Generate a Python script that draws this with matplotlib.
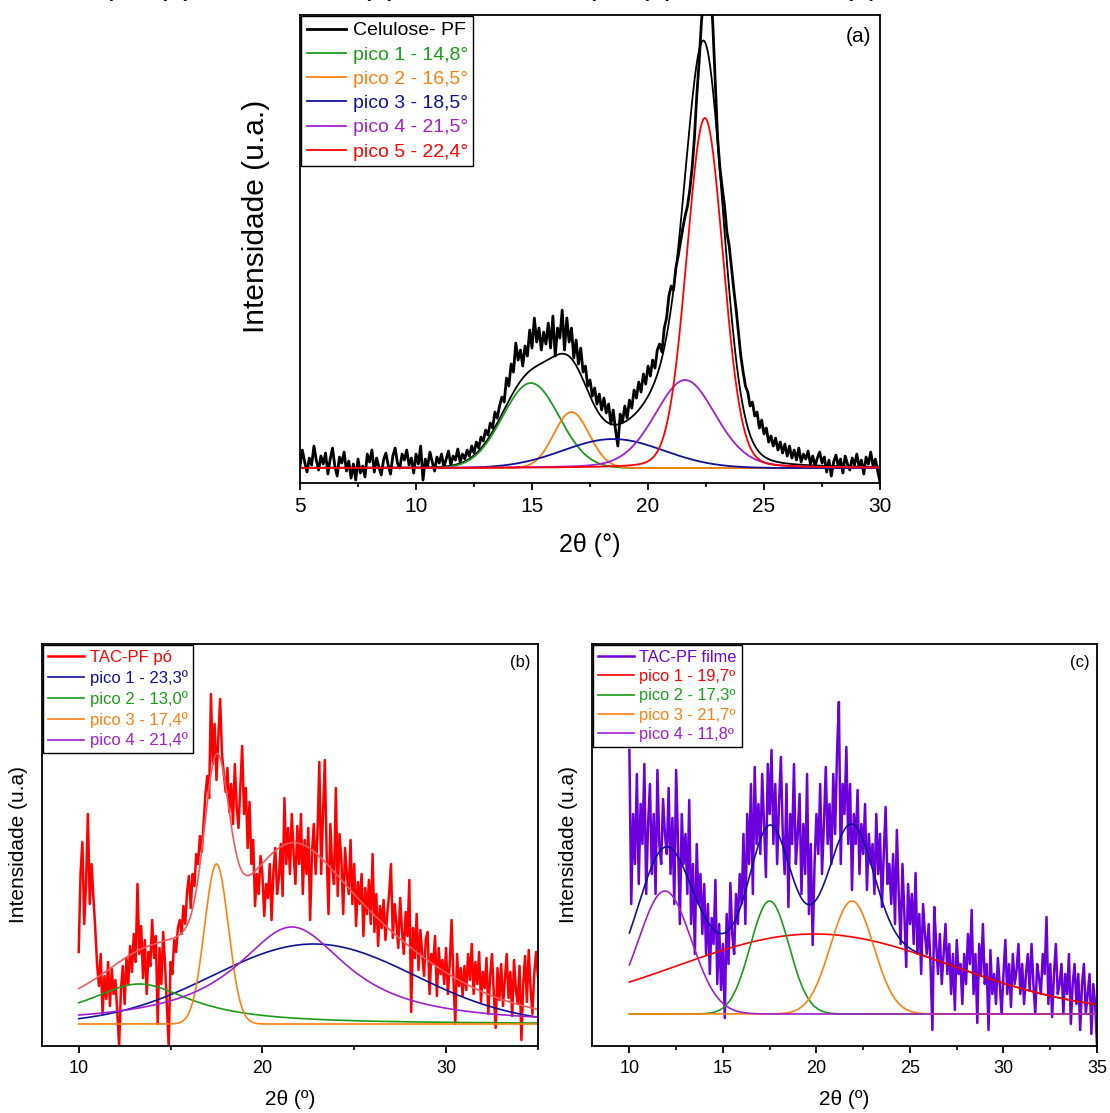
import matplotlib.pyplot as plt
import numpy as np
from matplotlib.ticker import MultipleLocator

plt.rcParams['font.family'] = ['Liberation Sans', 'DejaVu Sans']

# ---------------- (a) Celulose- PF, 5-30 deg, step 0.1 ----------------
a_range = (5.0, 30.0)
a_raw = [
    2, 18, 6, -4, 10, 3, 22, 8, -2, 12,
    4, 15, -6, 9, 20, 2, -8, 11, 5, 16,
    -3, 7, -10, 4, -12, 9, -5, 2, -9, 14,
    6, 18, -4, 10, 1, -7, 8, 15, 3, -6,
    12, 20, 5, 0, 14, 8, 18, 3, 10, -5,
    14, 4, 22, -12, 9, 2, 16, 6, -3, 11,
    5, 14, 1, 9, 17, 3, 12, 8, 19, 6,
    14, 9, 18, 12, 22, 15, 26, 20, 31, 27,
    38, 33, 45, 40, 56, 50, 62, 71, 66, 90,
    82, 104, 96, 125, 108, 118, 102, 122, 112, 138,
    120, 150, 126, 140, 118, 136, 124, 145, 120, 152,
    112, 140, 130, 158, 118, 150, 126, 140, 110, 128,
    104, 120, 96, 102, 82, 88, 72, 80, 64, 74,
    58, 70, 55, 64, 44, 58, 38, 22, 54, 46,
    62, 50, 68, 60, 78, 70, 86, 76, 94, 84,
    102, 92, 108, 100, 118, 124, 116, 140, 150, 172,
    182, 178, 200, 212, 226, 240, 252, 262, 278, 300,
    330, 372, 405, 445, 475, 490, 470, 485, 440, 385,
    330, 300, 280, 262, 236, 222, 200, 178, 158, 135,
    112, 96, 82, 76, 62, 66, 52, 56, 40, 48,
    34, 40, 26, 32, 22, 30, 18, 26, 15, 24,
    12, 22, 10, 18, 8, 20, 6, 14, 9, 17,
    4, 12, 2, 10, 16, 5, 11, -4, 8, -8,
    6, 13, 2, 9, -5, 12, 4, -2, 10, 3,
    14, 1, 8, -6, 11, 4, 16, 2, 9, -3,
    -14,
]
a_data_label = 'Celulose- PF'
a_labels = ['pico 1 - 14,8°', 'pico 2 - 16,5°', 'pico 3 - 18,5°',
            'pico 4 - 21,5°', 'pico 5 - 22,4°']
a_center = [14.95, 16.7, 18.5, 21.6, 22.45]
a_height = [85, 56, 29, 88, 350]
a_fwhm = [2.87, 1.8, 5.1, 3.1, 1.85]
a_eta = [0.0, 0.0, 0.0, 0.2, 0.1]
a_colors = ['#1a9c1a', '#ff8010', '#10109a', '#a020d0', '#ff0000']

# ---------------- (b) TAC-PF pó, 10-35 deg, step 0.1 ----------------
b_range = (10.0, 35.0)
b_raw = [
    72, 150, 182, 100, 140, 210, 120, 160, 127, 96,
    60, 38, 70, 10, 48, 25, 62, 18, 55, 30,
    44, 12, -22, 35, 58, 20, 66, 40, 78, 52,
    90, 62, 140, 70, 98, 46, 84, 30, 72, 58,
    104, 66, 88, 0, 76, 40, 92, 60, 20, -22,
    62, 50, 84, 72, 96, 104, 90, 118, 100, 132,
    148, 116, 150, 138, 170, 160, 188, 172, 200, 230,
    248, 226, 330, 260, 300, 244, 286, 325, 270, 250,
    232, 256, 212, 240, 200, 260, 218, 196, 238, 278,
    210, 236, 176, 222, 160, 184, 118, 150, 130, 168,
    150, 108, 140, 126, 160, 104, 152, 176, 130, 146,
    180, 128, 226, 160, 196, 150, 210, 170, 140, 198,
    160, 210, 130, 184, 150, 196, 104, 172, 200, 150,
    190, 262, 150, 210, 264, 170, 110, 200, 158, 140,
    236, 128, 190, 164, 110, 176, 150, 130, 184, 120,
    160, 98, 142, 120, 150, 88, 136, 110, 144, 100,
    170, 92, 130, 78, 118, 96, 124, 84, 110, 130,
    160, 86, 120, 100, 76, 126, 94, 70, 112, 88,
    144, 12, 96, 66, 110, 54, 94, 70, 48, 86,
    92, 30, 70, 60, 88, 28, 76, 50, 64, 40,
    76, 30, 60, 104, 46, 0, 70, 38, 56, 28,
    58, 34, 70, 44, 80, 30, 62, 40, 72, 22,
    52, 36, 66, 10, 48, 70, 30, -4, 56, 24,
    60, 18, 44, 70, 26, 52, 8, 64, 34, 20,
    58, -16, 40, 68, 22, 74, 36, 10, 50, 72,
    48,
]
b_data_label = 'TAC-PF pó'
b_labels = ['pico 1 - 23,3º', 'pico 2 - 13,0º', 'pico 3 - 17,4º', 'pico 4 - 21,4º']
b_center = [22.8, 13.3, 17.5, 21.6]
b_height = [80, 40, 160, 97]
b_fwhm = [12.95, 7.0, 1.53, 7.4]
b_eta = [0.0, 1.0, 0.0, 1.0]
b_colors = ['#10109a', '#1a9c1a', '#ff8010', '#a020d0']

# ---------------- (c) TAC-PF filme, 10-35 deg, step 0.1 ----------------
c_range = (10.0, 35.0)
c_raw = [
    264, 110, 200, 150, 240, 130, 210, 170, 250, 120,
    190, 230, 140, 200, 120, 244, 170, 150, 215, 180,
    160, 226, 140, 196, 110, 244, 170, 90, 200, 150,
    180, 120, 214, 90, 150, 60, 170, 110, 140, 80,
    130, 60, 110, 40, 96, 70, 134, 30, 90, 24,
    70, -4, 100, 50, 131, 80, 60, 120, 90, 140,
    110, 180, 90, 200, 150, 230, 120, 247, 170, 210,
    160, 240, 190, 137, 250, 200, 264, 170, 230, 150,
    210, 257, 180, 140, 230, 107, 200, 170, 250, 150,
    180, 220, 120, 190, 140, 240, 100, 170, 69, 150,
    200, 160, 230, 140, 190, 247, 170, 210, 150, 240,
    180, 260, 312, 150, 230, 200, 267, 170, 230, 124,
    200, 170, 224, 140, 190, 160, 210, 124, 180, 150,
    170, 120, 200, 140, 180, 107, 160, 207, 130, 150,
    110, 160, 90, 184, 120, 70, 150, 100, 47, 130,
    90, 120, 70, 141, 60, 100, 40, 110, 80, 60,
    90, 50, -16, 107, 70, 40, 80, 30, 60, 90,
    40, 70, 20, 60, 4, 74, 40, 50, 10, 60,
    30, 80, 50, 104, 20, 60, -9, 70, 40, 90,
    30, 50, -16, 64, 20, 40, 10, 56, 30, 0,
    40, 74, 20, 50, 7, 60, 30, 44, 70, 20,
    50, 10, 40, 60, 24, 70, 30, 0, 50, 36,
    20, 60, 40, 97, 10, 50, -3, 40, 70, 20,
    30, 50, 0, 40, 20, 60, -10, 30, 50, 10,
    40, -16, 30, 50, 0, 20, 40, -20, 30, 10,
    -32,
]
c_data_label = 'TAC-PF filme'
c_labels = ['pico 1 - 19,7º', 'pico 2 - 17,3º', 'pico 3 - 21,7º', 'pico 4 - 11,8º']
c_center = [19.9, 17.5, 21.9, 11.9]
c_height = [80, 113, 113, 123]
c_fwhm = [17.2, 2.43, 2.7, 3.3]
c_eta = [0.0, 0.0, 0.0, 0.0]
c_colors = ['#ff0000', '#1a9c1a', '#ff8010', '#a020c8']


def peak(x, c, h, fwhm, eta):
    # pseudo-Voigt: eta=0 gaussian, eta=1 lorentzian
    g = np.exp(-0.5 * ((x - c) / (fwhm / 2.3548)) ** 2)
    l = 1.0 / (1.0 + ((x - c) / (fwhm / 2.0)) ** 2)
    return h * (eta * l + (1 - eta) * g)


def draw_panel(ax, xr, raw, data_label, data_color, fit_color,
               centers, heights, fwhms, etas, labels, colors, lw_data, lw_fit):
    x = np.linspace(xr[0], xr[1], len(raw))
    ax.plot(x, raw, color=data_color, lw=lw_data, label=data_label)
    xm = np.linspace(xr[0], xr[1], 1201)
    comps = [peak(xm, c, h, w, e) for c, h, w, e in zip(centers, heights, fwhms, etas)]
    ax.plot(xm, np.sum(comps, axis=0), color=fit_color, lw=lw_fit)
    for comp, lab, col in zip(comps, labels, colors):
        ax.plot(xm, comp, color=col, lw=lw_fit, label=lab)
    ax.set_yticks([])
    for sp in ax.spines.values():
        sp.set_linewidth(1.3)
    ax.tick_params(axis='x', which='major', direction='out', length=5, width=1.3, pad=5)
    ax.tick_params(axis='x', which='minor', direction='out', length=3, width=1.2)


def add_legend(ax, size, hlen, lspace):
    leg = ax.legend(loc='upper left', bbox_to_anchor=(0, 1.0), borderaxespad=0.05,
                    fontsize=size, labelcolor='linecolor', fancybox=False,
                    edgecolor='black', framealpha=1, handlelength=hlen,
                    handletextpad=0.35, labelspacing=lspace, borderpad=0.3)
    leg.get_frame().set_linewidth(1.0)
    return leg


fig = plt.figure(figsize=(11.1, 11.13), dpi=100)

# panel (a)
ax_a = fig.add_axes([0.2703, 0.566, 0.5225, 0.4205])
draw_panel(ax_a, a_range, a_raw, a_data_label, 'black', 'black',
           a_center, a_height, a_fwhm, a_eta, a_labels, a_colors, 2.0, 1.3)
ax_a.set_xlim(5, 30)
ax_a.set_ylim(-15, 453)
ax_a.xaxis.set_major_locator(MultipleLocator(5))
ax_a.xaxis.set_minor_locator(MultipleLocator(2.5))
ax_a.tick_params(axis='x', labelsize=15)
ax_a.text(0.5, -0.1325, '2θ (°)', transform=ax_a.transAxes, ha='center', va='center', fontsize=18)
ax_a.text(-0.076, 0.57, 'Intensidade (u.a.)', transform=ax_a.transAxes, rotation=90,
          ha='center', va='center', fontsize=21.5)
ax_a.text(0.985, 0.955, '(a)', transform=ax_a.transAxes, ha='right', va='center', fontsize=15)
add_legend(ax_a, 14, 2.0, 0.34)

# panel (b)
ax_b = fig.add_axes([0.0378, 0.0602, 0.4468, 0.3612])
draw_panel(ax_b, b_range, b_raw, b_data_label, '#ff0000', '#f25a5a',
           b_center, b_height, b_fwhm, b_eta, b_labels, b_colors, 1.8, 1.2)
ax_b.set_xlim(8, 35)
ax_b.set_ylim(-22, 380)
ax_b.xaxis.set_major_locator(MultipleLocator(10))
ax_b.xaxis.set_minor_locator(MultipleLocator(5))
ax_b.tick_params(axis='x', labelsize=13)
ax_b.text(0.5, -0.134, '2θ (º)', transform=ax_b.transAxes, ha='center', va='center', fontsize=15)
ax_b.text(-0.047, 0.5, 'Intensidade (u.a)', transform=ax_b.transAxes, rotation=90,
          ha='center', va='center', fontsize=15)
ax_b.text(0.985, 0.955, '(b)', transform=ax_b.transAxes, ha='right', va='center', fontsize=12)
add_legend(ax_b, 12, 2.2, 0.3)

# panel (c)
ax_c = fig.add_axes([0.5333, 0.0602, 0.455, 0.3612])
draw_panel(ax_c, c_range, c_raw, c_data_label, '#6a00dc', '#10109a',
           c_center, c_height, c_fwhm, c_eta, c_labels, c_colors, 1.8, 1.2)
ax_c.set_xlim(8, 35)
ax_c.set_ylim(-32, 370)
ax_c.xaxis.set_major_locator(MultipleLocator(5))
ax_c.xaxis.set_minor_locator(MultipleLocator(2.5))
ax_c.tick_params(axis='x', labelsize=13)
ax_c.text(0.5, -0.134, '2θ (º)', transform=ax_c.transAxes, ha='center', va='center', fontsize=15)
ax_c.text(-0.047, 0.5, 'Intensidade (u.a)', transform=ax_c.transAxes, rotation=90,
          ha='center', va='center', fontsize=15)
ax_c.text(0.985, 0.955, '(c)', transform=ax_c.transAxes, ha='right', va='center', fontsize=12)
add_legend(ax_c, 11.8, 2.2, 0.26)

# clipped remnants of a caption line above the figure (only descenders show)
for xs, s in [(107, 'p'), (156, '(4)'), (360, '(a)'), (590, 'p'), (638, '(4)'), (842, '(b)')]:
    fig.text(xs / 1110, 1.005, s, ha='left', va='baseline', fontsize=22)

fig.savefig('out.png', dpi=100)
